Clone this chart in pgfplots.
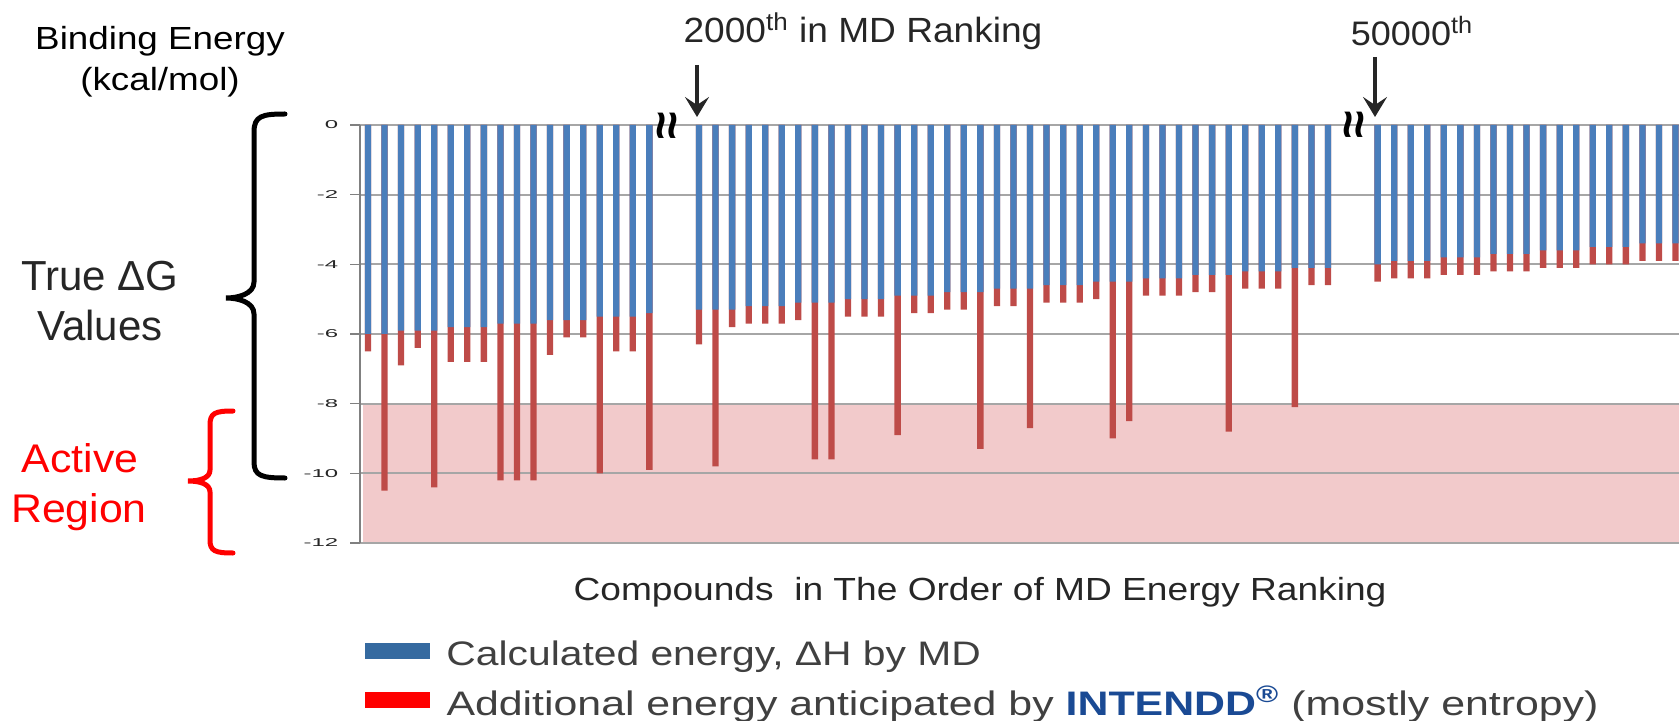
\documentclass[border=0pt]{standalone}
\usepackage{fontspec}
\setmainfont{Liberation Sans}
\usepackage{pgfplots}
\usepackage{pgfplotstable}
\pgfplotsset{compat=1.18}
\usetikzlibrary{arrows.meta}

\definecolor{mdblue}{HTML}{4A7EBB}
\definecolor{exred}{HTML}{BE4B48}
\definecolor{activebg}{HTML}{F2CACB}
\definecolor{gridgray}{HTML}{A6A6A6}
\definecolor{tickgray}{HTML}{A0A0A0}
\definecolor{darktext}{HTML}{262626}
\definecolor{legtext}{HTML}{404040}
\definecolor{legblue}{HTML}{356AA0}
\definecolor{intendd}{HTML}{1A4A94}

% x = position of the compound (three groups, gaps are the breaks)
% md = calculated energy (MD), total = MD + additional energy
\pgfplotstableread{
x md total
0 -6.0 -6.5
1 -6.0 -10.5
2 -5.9 -6.9
3 -5.9 -6.4
4 -5.9 -10.4
5 -5.8 -6.8
6 -5.8 -6.8
7 -5.8 -6.8
8 -5.7 -10.2
9 -5.7 -10.2
10 -5.7 -10.2
11 -5.6 -6.6
12 -5.6 -6.1
13 -5.6 -6.1
14 -5.5 -10.0
15 -5.5 -6.5
16 -5.5 -6.5
17 -5.4 -9.9
20 -5.3 -6.3
21 -5.3 -9.8
22 -5.3 -5.8
23 -5.2 -5.7
24 -5.2 -5.7
25 -5.2 -5.7
26 -5.1 -5.6
27 -5.1 -9.6
28 -5.1 -9.6
29 -5.0 -5.5
30 -5.0 -5.5
31 -5.0 -5.5
32 -4.9 -8.9
33 -4.9 -5.4
34 -4.9 -5.4
35 -4.8 -5.3
36 -4.8 -5.3
37 -4.8 -9.3
38 -4.7 -5.2
39 -4.7 -5.2
40 -4.7 -8.7
41 -4.6 -5.1
42 -4.6 -5.1
43 -4.6 -5.1
44 -4.5 -5.0
45 -4.5 -9.0
46 -4.5 -8.5
47 -4.4 -4.9
48 -4.4 -4.9
49 -4.4 -4.9
50 -4.3 -4.8
51 -4.3 -4.8
52 -4.3 -8.8
53 -4.2 -4.7
54 -4.2 -4.7
55 -4.2 -4.7
56 -4.1 -8.1
57 -4.1 -4.6
58 -4.1 -4.6
61 -4.0 -4.5
62 -3.9 -4.4
63 -3.9 -4.4
64 -3.9 -4.4
65 -3.8 -4.3
66 -3.8 -4.3
67 -3.8 -4.3
68 -3.7 -4.2
69 -3.7 -4.2
70 -3.7 -4.2
71 -3.6 -4.1
72 -3.6 -4.1
73 -3.6 -4.1
74 -3.5 -4.0
75 -3.5 -4.0
76 -3.5 -4.0
77 -3.4 -3.9
78 -3.4 -3.9
79 -3.4 -3.9
}\bars

\begin{document}
\begin{tikzpicture}
\begin{axis}[
  at={(180pt,-62.5pt)}, anchor=north west,
  width=659.5pt, height=209pt, scale only axis,
  set layers=standard,
  xmin=-0.483, xmax=79.21,
  ymin=-12, ymax=0,
  axis x line*=top, axis y line*=left,
  x axis line style={draw=gridgray, line width=0.9pt},
  y axis line style={draw=gray, line width=0.7pt},
  xtick=\empty,
  minor xtick={-0.5,0.5,...,79.5},
  minor tick length=2.5pt, major tick length=5pt,
  tick align=inside,
  minor tick style={draw=tickgray, line width=0.6pt},
  ytick={-12,-10,...,0},
  yticklabels={-12,-10,-8,-6,-4,-2,0},
  ytick style={draw=gray, line width=0.6pt, xshift=-5pt},
  yticklabel style={font=\fontsize{5.7}{6}\selectfont, text=darktext, xshift=-3.5pt, xscale=2.1},
  ymajorgrids,
  grid style={draw=gridgray, line width=0.9pt},
]
\addplot[on layer=axis background, fill=activebg, draw=none]
  coordinates {(-0.3,-8) (79.21,-8) (79.21,-12) (-0.3,-12)} -- cycle;
\addplot[ybar, bar width=0.38, bar shift=0pt, fill=exred, draw=none]
  table[x=x, y=total] {\bars};
\addplot[ybar, bar width=0.38, bar shift=0pt, fill=mdblue, draw=none]
  table[x=x, y=md] {\bars};
\end{axis}

\begin{scope}[x=0.5pt, y=-0.5pt]
  % axis title
  \node[anchor=base, inner sep=0, font=\fontsize{16}{16}\selectfont, xscale=1.15] at (160,50) {Binding Energy};
  \node[anchor=base, inner sep=0, font=\fontsize{16}{16}\selectfont, xscale=1.15] at (160,91) {(kcal/mol)};

  % rank markers
  \node[anchor=base, inner sep=0, font=\fontsize{17.5}{17.5}\selectfont, text=darktext, xscale=1.06] at (863,43) {2000\textsuperscript{th} in MD Ranking};
  \node[anchor=base, inner sep=0, font=\fontsize{17}{17}\selectfont, text=darktext, xscale=1.06] at (1412,46) {50000\textsuperscript{th}};
  \draw[darktext, line width=1.9pt, -{Stealth[length=10pt, width=12pt, inset=4pt]}] (697,65) -- (697,117);
  \draw[darktext, line width=1.9pt, -{Stealth[length=10pt, width=12pt, inset=4pt]}] (1375,57) -- (1375,117);
  \node[rotate=90, inner sep=0, font=\fontsize{25}{25}\selectfont\bfseries] at (670,126) {≈};
  \node[rotate=90, inner sep=0, font=\fontsize{25}{25}\selectfont\bfseries] at (1357,125) {≈};

  % braces
  \draw[black, line width=2.5pt, line cap=round]
    (285,114) .. controls (262,114) and (254,116) .. (254,132) -- (254,282)
    .. controls (254,294) and (238,298) .. (226,298)
    .. controls (238,298) and (254,302) .. (254,314) -- (254,462)
    .. controls (254,476) and (262,478) .. (285,478);
  \draw[red, line width=2.5pt, line cap=round]
    (233,411) .. controls (215,411) and (210,413) .. (210,425) -- (210,470)
    .. controls (210,478) and (200,481) .. (188,481)
    .. controls (200,481) and (210,484) .. (210,492) -- (210,540)
    .. controls (210,551) and (215,553) .. (233,553);

  \node[anchor=base, inner sep=0, font=\fontsize{21}{21}\selectfont, text=darktext] at (100,291) {True ΔG};
  \node[anchor=base, inner sep=0, font=\fontsize{21}{21}\selectfont, text=darktext] at (100,341) {Values};
  \node[anchor=base, inner sep=0, font=\fontsize{20}{20}\selectfont, text=red, xscale=1.07] at (80,472) {Active};
  \node[anchor=base, inner sep=0, font=\fontsize{20}{20}\selectfont, text=red, xscale=1.07] at (79,522) {Region};

  % x label
  \node[anchor=base, inner sep=0, font=\fontsize{16}{16}\selectfont, text=darktext, xscale=1.16] at (980,600) {Compounds\ \ in The Order of MD Energy Ranking};

  % legend
  \fill[legblue] (365,643) rectangle (430,659);
  \fill[red] (365,692) rectangle (430,708);
  \node[anchor=base west, inner sep=0, font=\fontsize{17}{17}\selectfont, text=legtext, xscale=1.2] at (446,665) {Calculated energy, ΔH by MD};
  \node[anchor=base west, inner sep=0, font=\fontsize{17}{17}\selectfont, text=legtext, xscale=1.26] at (446,715) {Additional energy anticipated by {\bfseries\color{intendd}INTENDD\textsuperscript{®}} (mostly entropy)};
\end{scope}
\pgfresetboundingbox
\useasboundingbox (0,0) rectangle (839.5pt,-360.5pt);
\end{tikzpicture}
\end{document}
